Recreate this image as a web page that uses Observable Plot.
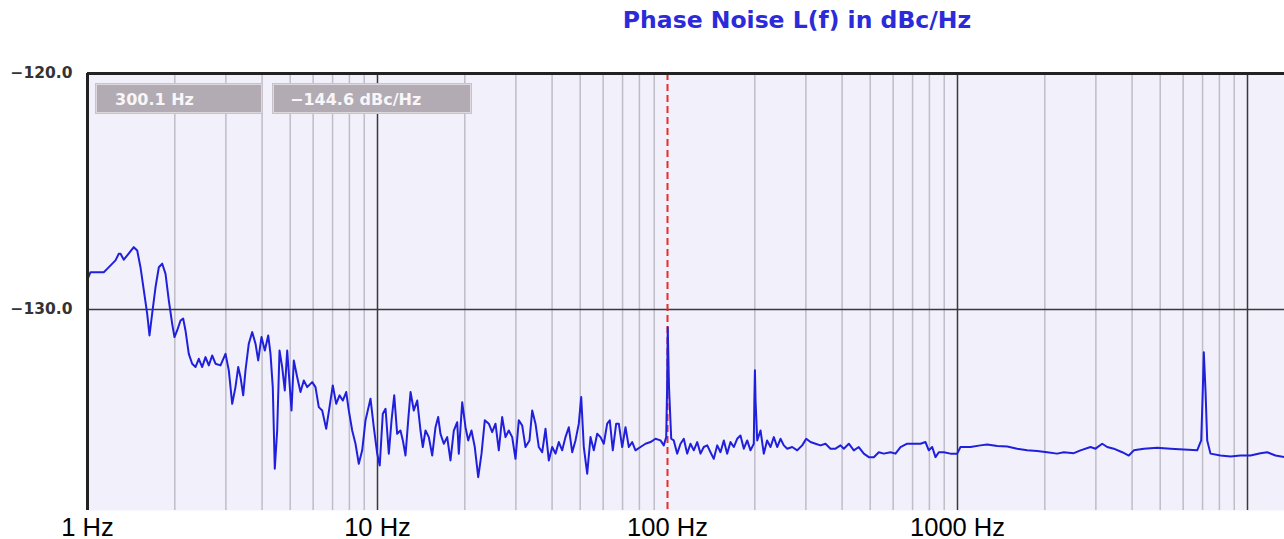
<!DOCTYPE html>
<html>
<head>
<meta charset="utf-8">
<script src="https://cdn.jsdelivr.net/npm/d3@7"></script>
<script src="https://cdn.jsdelivr.net/npm/@observablehq/plot@0.6"></script>
<style>
  html, body { margin: 0; padding: 0; background: #ffffff; }
  body { width: 1284px; height: 539px; position: relative; overflow: hidden; }
  #chart { position: absolute; left: 0; top: 0; }
  #title {
    position: absolute; left: 797px; top: 8px; transform: translateX(-50%);
    white-space: nowrap; font-family: "DejaVu Sans", sans-serif; font-weight: bold;
    font-size: 23.5px; line-height: 24px; color: #2b2bd9;
  }
  .readout {
    position: absolute; top: 84px; height: 29px; box-sizing: border-box;
    background: #b3abb3; border: 1px solid #ddd8dd; box-shadow: 0 0 0 1px #c9c3c9;
    font-family: "DejaVu Sans", sans-serif; font-weight: bold; font-size: 16px;
    color: #f8f6f8; padding-top: 3px; line-height: 24px; white-space: nowrap;
  }
</style>
</head>
<body>
<div id="chart"></div>
<div id="title"></div>
<div class="readout" id="r1" style="left:96px;width:166px;padding-left:18px;"></div>
<div class="readout" id="r2" style="left:273px;width:198px;padding-left:16px;"></div>
<script>
// ---- data ----
const titleText = "Phase Noise L(f) in dBc/Hz";
const readoutFreq = "300.1 Hz";
const readoutLevel = "\u2212144.6 dBc/Hz";

const freqHz = [
  1.00, 1.024, 1.138, 1.169, 1.249, 1.282, 1.300, 1.334, 1.371, 1.444,
  1.484, 1.523, 1.564, 1.606, 1.636, 1.671, 1.716, 1.762, 1.810, 1.858,
  1.907, 1.959, 1.995, 2.038, 2.093, 2.138, 2.177, 2.235, 2.296, 2.357,
  2.420, 2.486, 2.552, 2.620, 2.691, 2.763, 2.875, 2.991, 3.071, 3.155,
  3.238, 3.309, 3.370, 3.443, 3.506, 3.599, 3.698, 3.796, 3.878, 3.981,
  4.087, 4.199, 4.276, 4.354, 4.424, 4.509, 4.593, 4.692, 4.790, 4.882,
  5.052, 5.145, 5.286, 5.426, 5.570, 5.722, 5.954, 6.112, 6.274, 6.446,
  6.654, 6.831, 7.012, 7.204, 7.396, 7.592, 7.800, 7.962, 8.180, 8.397,
  8.620, 8.856, 9.091, 9.459, 9.710, 9.976, 10.18, 10.43, 10.66, 10.94,
  11.18, 11.42, 11.69, 12.00, 12.23, 12.49, 12.76, 13.00, 13.34, 13.71,
  14.07, 14.33, 14.64, 15.03, 15.44, 15.85, 16.19, 16.49, 16.93, 17.39,
  17.85, 18.33, 18.83, 19.07, 19.59, 20.11, 20.55, 21.09, 21.65, 22.25,
  22.84, 23.44, 24.20, 24.86, 25.52, 26.20, 26.91, 27.63, 28.36, 29.14,
  29.91, 30.71, 31.55, 32.38, 33.43, 34.16, 35.06, 35.99, 36.98, 37.96,
  38.97, 40.03, 41.10, 42.19, 43.34, 44.49, 45.67, 46.92, 48.17, 49.45,
  50.40, 51.45, 52.86, 54.26, 55.70, 57.22, 58.74, 60.30, 61.95, 63.24,
  64.77, 66.54, 67.93, 69.79, 71.64, 73.55, 75.56, 77.56, 80.71, 83.97,
  87.38, 90.91, 94.59, 97.10, 98.98, 99.7, 100.2, 101.2, 103.0, 105.1,
  108.0, 110.9, 113.8, 116.9, 120.0, 123.2, 126.6, 130.0, 133.4, 137.1,
  140.7, 144.4, 148.4, 152.3, 156.4, 160.6, 164.9, 169.3, 173.9, 178.5,
  183.3, 188.3, 193.3, 198.4, 199.3, 200.2, 201.2, 203.9, 209.3, 214.8,
  220.5, 226.6, 232.6, 238.9, 245.3, 251.8, 258.7, 269.1, 280.1, 291.4,
  300.8, 311.3, 323.8, 337.0, 350.6, 364.8, 379.6, 395.0, 405.5, 421.9,
  439.0, 456.7, 475.2, 494.5, 514.5, 535.4, 557.0, 587.4, 611.2, 636.0,
  670.8, 706.8, 745.4, 775.6, 796.2, 818.0, 839.7, 862.0, 897.0, 945.9,
  997.6, 1024, 1109, 1200, 1266, 1371, 1484, 1606, 1739, 1883,
  2038, 2205, 2326, 2518, 2655, 2875, 2991, 3155, 3282, 3459,
  3698, 3897, 4055, 4390, 4882, 5426, 6030, 6708, 6924, 7012,
  7068, 7164, 7262, 7454, 8071, 8738, 9459, 10241, 11090, 11690,
  12490, 13415
];

const levelDbc = [
  -128.73, -128.42, -128.42, -128.28, -127.92, -127.64, -127.64, -127.89, -127.71, -127.36,
  -127.50, -128.21, -129.19, -130.18, -131.10, -130.18, -129.06, -128.21, -128.06, -128.49,
  -129.62, -130.61, -131.17, -130.89, -130.47, -130.39, -130.89, -131.88, -132.30, -132.44,
  -132.09, -132.44, -132.02, -132.37, -131.95, -132.30, -132.37, -131.88, -132.58, -134.00,
  -133.29, -132.44, -132.87, -133.64, -132.58, -131.45, -130.96, -131.45, -132.16, -131.17,
  -131.74, -131.10, -131.88, -133.29, -136.75, -135.13, -131.74, -132.44, -133.43, -131.74,
  -134.28, -132.16, -132.87, -133.50, -133.01, -133.29, -133.08, -133.29, -134.14, -134.28,
  -135.06, -134.14, -133.22, -134.00, -133.64, -133.86, -133.50, -134.28, -135.13, -135.69,
  -136.54, -135.97, -134.70, -133.78, -134.99, -136.11, -136.61, -134.42, -134.21, -136.11,
  -134.70, -133.64, -135.27, -135.13, -135.55, -136.19, -134.70, -133.50, -134.28, -133.86,
  -135.13, -135.83, -135.13, -135.41, -136.19, -134.99, -134.56, -135.27, -135.69, -135.41,
  -136.40, -135.13, -134.78, -136.11, -133.93, -134.99, -135.55, -135.13, -135.83, -137.11,
  -136.11, -134.70, -134.84, -135.20, -134.84, -135.97, -134.56, -135.41, -135.13, -135.41,
  -136.33, -134.70, -134.92, -135.83, -135.55, -134.28, -134.84, -135.83, -136.05, -135.06,
  -136.40, -135.83, -136.11, -135.62, -135.97, -135.41, -134.99, -136.05, -135.55, -134.84,
  -133.71, -135.83, -136.96, -135.41, -135.97, -135.27, -135.41, -135.69, -134.84, -134.70,
  -135.97, -134.84, -134.84, -135.83, -134.99, -135.83, -135.62, -135.97, -135.83, -135.69,
  -135.62, -135.48, -135.55, -135.76, -135.41, -133.29, -130.75, -133.29, -135.48, -135.55,
  -136.11, -135.69, -135.48, -136.11, -135.69, -135.97, -135.62, -136.11, -135.83, -135.76,
  -136.05, -136.33, -135.76, -136.05, -135.55, -136.11, -135.62, -135.83, -135.48, -135.34,
  -135.90, -135.55, -135.97, -135.69, -133.86, -132.58, -133.86, -135.55, -135.13, -136.11,
  -135.55, -135.83, -135.41, -135.83, -135.48, -135.76, -135.90, -135.83, -135.97, -135.76,
  -135.48, -135.62, -135.69, -135.76, -135.69, -135.90, -135.90, -135.76, -135.90, -135.69,
  -135.97, -135.83, -136.11, -136.26, -136.26, -136.05, -136.11, -136.05, -136.11, -135.83,
  -135.69, -135.69, -135.69, -135.62, -135.97, -135.83, -136.26, -136.05, -136.05, -136.11,
  -136.11, -135.83, -135.83, -135.76, -135.72, -135.79, -135.81, -135.90, -135.97, -136.00,
  -136.05, -136.11, -136.05, -136.09, -135.97, -135.83, -135.90, -135.69, -135.83, -135.90,
  -136.05, -136.19, -135.97, -135.90, -135.86, -135.90, -135.94, -135.97, -135.55, -133.43,
  -131.81, -133.43, -135.55, -136.11, -136.19, -136.23, -136.19, -136.19, -136.09, -136.05,
  -136.19, -136.26
];

const xTicksHz = [1, 10, 100, 1000];
const yTicksDbc = [-120, -130];
const majorGridHz = [10, 100, 1000, 10000];
const minorGridHz = [2, 3, 4, 5, 6, 7, 8, 9,
  20, 30, 40, 50, 60, 70, 80, 90,
  200, 300, 400, 500, 600, 700, 800, 900,
  2000, 3000, 4000, 5000, 6000, 7000, 8000, 9000];
const markerHz = 100;
const xDomainHz = [1, 13415];
const yDomainDbc = [-138.52, -120];

// ---- build ----
document.getElementById("title").textContent = titleText;
document.getElementById("r1").textContent = readoutFreq;
document.getElementById("r2").textContent = readoutLevel;

const trace = freqHz.map((f, i) => ({f, L: levelDbc[i]}));
// the cursor line replaces the decade line it sits on
const visibleMajor = majorGridHz.filter(v => v !== markerHz);

const chart = Plot.plot({
  width: 1284,
  height: 539,
  marginLeft: 87,
  marginRight: 0,
  marginTop: 73,
  marginBottom: 29,
  x: {type: "log", domain: xDomainHz},
  y: {domain: yDomainDbc},
  style: {background: "transparent", overflow: "visible"},
  marks: [
    Plot.frame({fill: "#f1f0fb", stroke: "none"}),
    Plot.ruleX(minorGridHz, {stroke: "#bebdc8", strokeWidth: 1.5}),
    Plot.ruleX(visibleMajor, {stroke: "#3a3a3a", strokeWidth: 1.5}),
    Plot.ruleY([-130], {stroke: "#3a3a3a", strokeWidth: 1.5}),
    Plot.ruleX([markerHz], {stroke: "#ec2a2a", strokeWidth: 2, strokeDasharray: "7,4"}),
    Plot.line(trace, {x: "f", y: "L", stroke: "#2020dc", strokeWidth: 2, strokeLinejoin: "round"}),
    Plot.ruleY([-120], {stroke: "#222222", strokeWidth: 3}),
    Plot.ruleX([1], {stroke: "#222222", strokeWidth: 3}),
    Plot.axisX(xTicksHz, {
      tickSize: 0, tickPadding: 7, label: null,
      tickFormat: d => `${d} Hz`,
      fontSize: 25.5, fontFamily: "Liberation Sans, Arial, sans-serif", fill: "#000000"
    }),
    Plot.axisY(yTicksDbc, {
      tickSize: 0, tickPadding: 15, label: null,
      tickFormat: d => "\u2212" + Math.abs(d).toFixed(1),
      fontSize: 15.5, fontFamily: "DejaVu Sans, sans-serif", fontWeight: "bold", fill: "#333333"
    })
  ]
});
document.getElementById("chart").appendChild(chart);
</script>
</body>
</html>
